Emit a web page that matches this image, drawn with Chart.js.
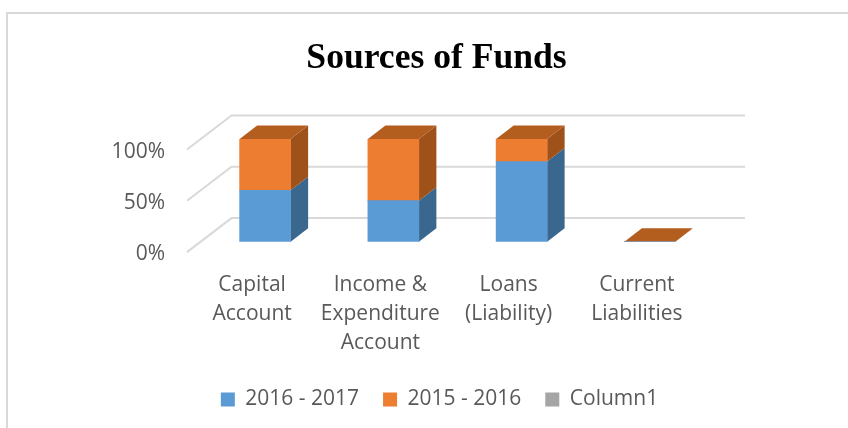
<!DOCTYPE html>
<html><head><meta charset="utf-8">
<style>
html,body{margin:0;padding:0;background:#fff;width:848px;height:428px;overflow:hidden}
#wrap{position:absolute;left:0;top:0;width:848px;height:428px}
#frame{position:absolute;left:6px;top:12px;width:842px;height:416px;border-left:2px solid #d9d9d9;border-top:2px solid #d9d9d9;box-sizing:border-box}
canvas{position:absolute;left:0;top:0}
</style>
<script src="https://cdn.jsdelivr.net/npm/chart.js@4"></script>
</head><body>
<div id="wrap"><div id="frame"></div><canvas id="c" width="848" height="428"></canvas></div>
<script>
const categories = [["Capital","Account"],["Income &","Expenditure","Account"],["Loans","(Liability)"],["Current","Liabilities"]];
const series2016 = [50, 40, 78, 0];
const series2015 = [50, 60, 22, 0];
const column1 = [0, 0, 0, 0];
const yTicks = [0, 50, 100];

const sideColors = ["#3a678e", "#9e5118", "#6b6b6b"];
const topColor = "#b35d1f";
const depthX = 17.5, depthY = -13.5;
const wallX = 44.5, backY = -23.6, floorY = 10.4, backRight = 745;

function poly(ctx, pts, color){
  ctx.fillStyle = color;
  ctx.beginPath();
  pts.forEach((p,i)=> i ? ctx.lineTo(p[0],p[1]) : ctx.moveTo(p[0],p[1]));
  ctx.closePath();
  ctx.fill();
}
const threeD = {
  id:'threeD',
  afterLayout(chart){
    chart.titleBlock.left = 159;
    chart.legend.left = 165;
  },
  beforeDatasetsDraw(chart){
    const ctx = chart.ctx, y = chart.scales.y;
    ctx.save();
    ctx.strokeStyle = '#d9d9d9';
    ctx.lineWidth = 2;
    yTicks.forEach(v=>{
      const py = y.getPixelForValue(v);
      ctx.beginPath();
      ctx.moveTo(187, py+floorY);
      ctx.lineTo(187+wallX, py+backY);
      ctx.lineTo(backRight, py+backY);
      ctx.stroke();
    });
    chart.data.datasets.forEach((d,i)=>{
      chart.getDatasetMeta(i).data.forEach(b=>{
        const r = b.x + b.width/2;
        if (Math.abs(b.base-b.y) > 0.01)
          poly(ctx, [[r,b.y],[r+depthX,b.y+depthY],[r+depthX,b.base+depthY],[r,b.base]], sideColors[i]);
      });
    });
    chart.getDatasetMeta(1).data.forEach(b=>{
      const l = b.x - b.width/2, r = b.x + b.width/2;
      poly(ctx, [[l,b.y],[l+depthX,b.y+depthY],[r+depthX,b.y+depthY],[r,b.y]], topColor);
    });
    ctx.restore();
  }
};
const fontFam = '"Open Sans", sans-serif';
new Chart(document.getElementById('c'), {
  type:'bar',
  data:{ labels:categories, datasets:[
    {label:'2016 - 2017', data:series2016, backgroundColor:'#5b9bd5'},
    {label:'2015 - 2016', data:series2015, backgroundColor:'#ed7d31'},
    {label:'Column1', data:column1, backgroundColor:'#a5a5a5'}
  ]},
  plugins:[threeD],
  options:{
    responsive:false, animation:false, devicePixelRatio:1,
    layout:{padding:{left:0,right:134,top:0,bottom:8}},
    datasets:{bar:{barThickness:51}},
    scales:{
      x:{ stacked:true,
        grid:{display:false,drawTicks:false}, border:{display:false},
        afterFit(s){ s.height=123.3; },
        ticks:{ color:'#595959', padding:29, labelOffset:-13, maxRotation:0, autoSkip:false,
          font:{family:fontFam,size:21,lineHeight:1.38} } },
      y:{ stacked:true, min:0, max:100,
        afterFit(s){ s.width=201; },
        afterBuildTicks(s){ s.ticks = yTicks.map(v=>({value:v})); },
        grid:{display:false,drawTicks:false}, border:{display:false},
        ticks:{ color:'#595959', padding:36, labelOffset:12.5, crossAlign:'near', callback:v=>v+'%',
          font:{family:fontFam,size:21} } }
    },
    plugins:{
      tooltip:{enabled:false},
      title:{display:true,text:'Sources of Funds',color:'#000',
        font:{family:'"Liberation Serif", serif',size:35.6,weight:'bold'},
        padding:{top:37,bottom:59.3}},
      legend:{display:true,position:'bottom',
        labels:{boxWidth:14,boxHeight:14,padding:24,color:'#595959',font:{family:fontFam,size:21}}}
    }
  }
});
</script>
</body></html>
